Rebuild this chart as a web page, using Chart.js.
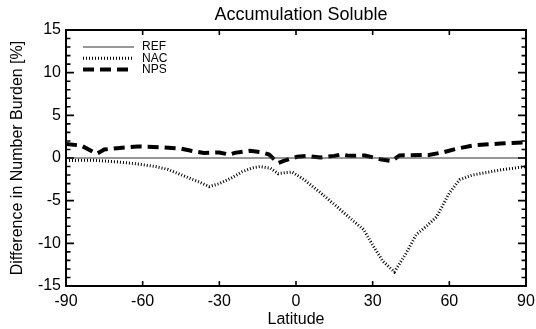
<!DOCTYPE html>
<html>
<head>
<meta charset="utf-8">
<script src="https://cdn.jsdelivr.net/npm/chart.js@4/dist/chart.umd.min.js"></script>
<style>
  html, body { margin: 0; padding: 0; background: #fff; }
  #wrap { width: 536px; height: 329px; }
</style>
</head>
<body>
<div id="wrap"><canvas id="burdenChart" width="536" height="329"></canvas></div>
<script>
// Zonal mean difference in accumulation soluble number burden (%)
const refLat = [-90, 90];
const refVals = [0, 0];

const nacLat = [-90, -80, -70, -62, -55, -50, -43, -38, -34, -30, -25, -21, -17, -14, -10, -7, -4, -1.5,
                3, 9.5, 16, 22.5, 26.5, 30, 34, 38.5, 43, 47, 51, 55, 60, 64, 69, 80, 90];
const nacVals = [-0.3, -0.25, -0.45, -0.7, -1.0, -1.35, -2.2, -2.8, -3.35, -3.0, -2.3, -1.6, -1.15, -1.0, -1.2, -1.85, -1.7, -1.65,
                 -2.5, -4.05, -5.7, -7.4, -8.4, -10.2, -12.1, -13.35, -11.2, -9.0, -8.0, -6.9, -4.1, -2.55, -2.0, -1.4, -1.0];

const npsLat = [-90, -84, -78, -75, -70, -62, -52, -45, -41, -36, -30, -26, -24, -18, -13, -10.5, -7, -3.5,
                0.5, 4.5, 9.5, 15, 17.5, 21, 27, 33, 37.5, 40.5, 52, 58, 63, 70, 80, 90];
const npsVals = [1.65, 1.45, 0.5, 1.0, 1.15, 1.35, 1.25, 1.1, 0.85, 0.6, 0.65, 0.4, 0.6, 0.85, 0.65, 0.4, -0.6, -0.2,
                 0.15, 0.25, 0.05, 0.25, 0.4, 0.25, 0.3, -0.15, -0.35, 0.3, 0.35, 0.7, 1.1, 1.5, 1.7, 1.85];

const xTicks = [-90, -60, -30, 0, 30, 60, 90];
const yTicks = [-15, -10, -5, 0, 5, 10, 15];

const FONT = 'Liberation Sans, Arial, Helvetica, sans-serif';

function toPoints(lat, vals) {
  return lat.map((v, i) => ({ x: v, y: vals[i] }));
}

// Closed frame, inward ticks, legend and title
const frameTicks = {
  id: 'frameTicks',
  afterDatasetsDraw(chart) {
    const { ctx, chartArea: a, scales: { x, y } } = chart;
    ctx.save();
    ctx.strokeStyle = '#000';
    ctx.lineWidth = 2;
    ctx.strokeRect(a.left, a.top, a.right - a.left, a.bottom - a.top);

    ctx.lineWidth = 1.6;
    ctx.beginPath();
    xTicks.forEach(v => {
      const px = x.getPixelForValue(v);
      ctx.moveTo(px, a.bottom); ctx.lineTo(px, a.bottom - 5);
      ctx.moveTo(px, a.top); ctx.lineTo(px, a.top + 5);
    });
    for (let v = y.min; v <= y.max; v++) {
      const py = y.getPixelForValue(v);
      const len = v % 5 === 0 ? 8 : 4.5;
      ctx.moveTo(a.left, py); ctx.lineTo(a.left + len, py);
      ctx.moveTo(a.right, py); ctx.lineTo(a.right - len, py);
    }
    ctx.stroke();

    // legend
    ctx.font = '12px ' + FONT;
    ctx.fillStyle = '#000';
    ctx.textBaseline = 'middle';
    chart.data.datasets.forEach((ds, i) => {
      const ly = 47 + i * 11.2;
      ctx.beginPath();
      ctx.strokeStyle = ds.borderColor;
      ctx.lineWidth = ds.borderWidth;
      ctx.setLineDash(ds.borderDash || []);
      ctx.moveTo(83, ly); ctx.lineTo(134, ly);
      ctx.stroke();
      ctx.setLineDash([]);
      ctx.fillText(ds.label, 142, ly);
    });

    // title
    ctx.font = '18px ' + FONT;
    ctx.textAlign = 'center';
    ctx.fillText('Accumulation Soluble', 301, 15);
    ctx.restore();
  }
};

new Chart(document.getElementById('burdenChart').getContext('2d'), {
  type: 'line',
  data: {
    datasets: [
      {
        label: 'REF',
        data: toPoints(refLat, refVals),
        borderColor: '#333',
        borderWidth: 1.2,
        pointRadius: 0
      },
      {
        label: 'NAC',
        data: toPoints(nacLat, nacVals),
        borderColor: '#000',
        borderWidth: 3,
        borderDash: [1, 2],
        pointRadius: 0
      },
      {
        label: 'NPS',
        data: toPoints(npsLat, npsVals),
        borderColor: '#000',
        borderWidth: 4,
        borderDash: [11, 6],
        pointRadius: 0
      }
    ]
  },
  options: {
    responsive: false,
    animation: false,
    layout: { padding: { top: 30, right: 10, left: 0, bottom: 0 } },
    plugins: {
      legend: { display: false },
      tooltip: { enabled: false }
    },
    scales: {
      x: {
        type: 'linear',
        min: -90,
        max: 90,
        afterFit: s => { s.height = 43; s.paddingLeft = 0; s.paddingRight = 0; },
        afterBuildTicks: s => { s.ticks = xTicks.map(v => ({ value: v })); },
        grid: { display: false, drawTicks: false },
        border: { display: false },
        ticks: { color: '#000', padding: 6, maxRotation: 0, font: { family: FONT, size: 16 } },
        title: {
          display: true,
          text: 'Latitude',
          color: '#000',
          padding: { top: 0, bottom: 0 },
          font: { family: FONT, size: 16 }
        }
      },
      y: {
        min: -15,
        max: 15,
        afterFit: s => { s.width = 66; s.paddingTop = 0; s.paddingBottom = 0; },
        afterBuildTicks: s => { s.ticks = yTicks.map(v => ({ value: v })); },
        grid: { display: false, drawTicks: false },
        border: { display: false },
        ticks: { color: '#000', padding: 5, font: { family: FONT, size: 16 } },
        title: {
          display: true,
          text: 'Difference in Number Burden [%]',
          color: '#000',
          padding: { top: 8, bottom: 0 },
          font: { family: FONT, size: 16 }
        }
      }
    }
  },
  plugins: [frameTicks]
});
</script>
</body>
</html>
